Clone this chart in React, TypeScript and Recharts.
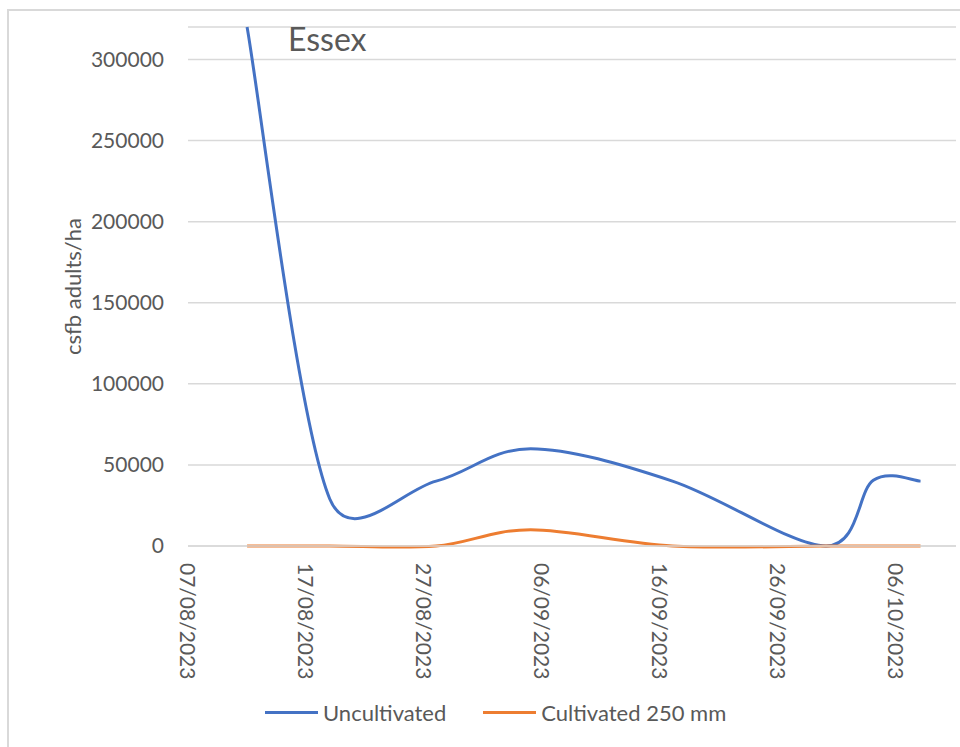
import React from 'react';
import { LineChart, Line, XAxis, YAxis, CartesianGrid, Legend, Label } from 'recharts';

// Sampling dates (dd/mm/yyyy) and trap counts converted to adults per hectare
const sampleDates = [
  '12/08/2023',
  '19/08/2023',
  '28/08/2023',
  '05/09/2023',
  '17/09/2023',
  '30/09/2023',
  '04/10/2023',
  '08/10/2023',
];
const uncultivated = [320000, 29000, 40000, 60000, 40000, 0, 40500, 40000];
const cultivated250 = [0, 0, 0, 10000, 0, 0, 0, 0];

const seriesNames = ['Uncultivated', 'Cultivated 250 mm'];
const seriesColors = ['#4472C4', '#ED7D31'];

const axisStart = '07/08/2023';
const axisEnd = '11/10/2023';
const dateTicks = [
  '07/08/2023',
  '17/08/2023',
  '27/08/2023',
  '06/09/2023',
  '16/09/2023',
  '26/09/2023',
  '06/10/2023',
];
const valueTicks = [0, 50000, 100000, 150000, 200000, 250000, 300000];
const valueMax = 320000;

const FONT = 'Lato, "Open Sans", sans-serif';
const TEXT = '#595959';
const GRID = '#d9d9d9';

const toDay = (s: string) => {
  const [d, m, y] = s.split('/').map(Number);
  return Date.UTC(y, m - 1, d) / 86400000;
};
const fromDay = (n: number) => {
  const dt = new Date(Math.round(n) * 86400000);
  const dd = String(dt.getUTCDate()).padStart(2, '0');
  const mm = String(dt.getUTCMonth() + 1).padStart(2, '0');
  return `${dd}/${mm}/${dt.getUTCFullYear()}`;
};

const rows = sampleDates.map((s, i) => ({
  day: toDay(s),
  uncultivated: uncultivated[i],
  cultivated: cultivated250[i],
}));

// Spreadsheet-style smoothed line: cubic Bezier segments whose control
// points follow the neighbouring points, shortened on short segments.
function smoothCurve(context: any) {
  let xs: number[] = [];
  let ys: number[] = [];
  let line = NaN;
  return {
    areaStart() {
      line = 0;
    },
    areaEnd() {
      line = NaN;
    },
    lineStart() {
      xs = [];
      ys = [];
    },
    point(x: number, y: number) {
      xs.push(+x);
      ys.push(+y);
    },
    lineEnd() {
      const n = xs.length;
      if (n > 0) {
        if (line) context.lineTo(xs[0], ys[0]);
        else context.moveTo(xs[0], ys[0]);
      }
      const dist = (a: number, b: number) => Math.hypot(xs[a] - xs[b], ys[a] - ys[b]);
      for (let i = 0; i < n - 1; i++) {
        const i0 = i > 0 ? i - 1 : i;
        const i1 = i;
        const i2 = i + 1;
        const i3 = i + 2 < n ? i + 2 : i + 1;
        const d02 = dist(i0, i2);
        const d12 = dist(i1, i2);
        const d13 = dist(i1, i3);
        let f1 = 1 / 6;
        let f2 = 1 / 6;
        if (d02 > 0 && d02 * f1 > d12 / 2) f1 = d12 / (2 * d02);
        if (d13 > 0 && d13 * f2 > d12 / 2) f2 = d12 / (2 * d13);
        const c1x = xs[i1] + f1 * (xs[i2] - xs[i0]);
        const c1y = ys[i1] + f1 * (ys[i2] - ys[i0]);
        const c2x = xs[i2] - f2 * (xs[i3] - xs[i1]);
        const c2y = ys[i2] - f2 * (ys[i3] - ys[i1]);
        context.bezierCurveTo(c1x, c1y, c2x, c2y, xs[i2], ys[i2]);
      }
      if (line || (line !== 0 && n === 1)) context.closePath();
      line = 1 - line;
    },
  };
}

const DateTick = (props: any) => {
  const { x, y, payload } = props;
  return (
    <text
      x={x}
      y={y}
      transform={`rotate(90, ${x}, ${y})`}
      textAnchor="start"
      dominantBaseline="central"
      fill={TEXT}
      fontSize={21}
      fontFamily={FONT}
    >
      {fromDay(payload.value)}
    </text>
  );
};

const LegendContent = (props: any) => {
  const items = [...(props.payload || [])].sort(
    (a: any, b: any) => seriesNames.indexOf(a.value) - seriesNames.indexOf(b.value),
  );
  return (
    <div style={{ display: 'flex', alignItems: 'center', fontFamily: FONT, fontSize: 22, color: TEXT }}>
      {items.map((it: any, i: number) => (
        <div key={i} style={{ display: 'flex', alignItems: 'center', marginRight: i === 0 ? 37 : 0 }}>
          <div style={{ width: 53, height: 3, background: it.color, marginRight: 5 }} />
          <span style={{ whiteSpace: 'nowrap' }}>{it.value}</span>
        </div>
      ))}
    </div>
  );
};

export default function App() {
  return (
    <div style={{ position: 'absolute', left: 0, top: 0, width: 960, height: 747, background: '#fff', overflow: 'hidden' }}>
      <div
        style={{
          position: 'absolute',
          left: 7,
          top: 9,
          width: 1000,
          height: 800,
          borderLeft: `2px solid ${GRID}`,
          borderTop: `2px solid ${GRID}`,
        }}
      />
      <LineChart
        width={960}
        height={747}
        data={rows}
        margin={{ top: 27, right: 4, left: 0, bottom: 0 }}
        style={{ position: 'absolute', left: 0, top: 0 }}
      >
        <CartesianGrid vertical={false} stroke={GRID} strokeWidth={1.5} />
        <XAxis
          dataKey="day"
          type="number"
          scale="linear"
          domain={[toDay(axisStart), toDay(axisEnd)]}
          ticks={dateTicks.map(toDay)}
          height={201}
          tickLine={false}
          tickMargin={11}
          axisLine={{ stroke: GRID, strokeWidth: 1.5 }}
          tick={<DateTick />}
          interval={0}
        />
        <YAxis
          type="number"
          domain={[0, valueMax]}
          ticks={valueTicks}
          width={188}
          tickLine={false}
          axisLine={false}
          tickSize={6}
          tickMargin={18}
          tick={{ fill: TEXT, fontSize: 21, fontFamily: FONT }}
          interval={0}
        >
          <Label
            content={(p: any) => {
              const vb = p.viewBox || { x: 0, y: 27, width: 188, height: 519 };
              const cx = vb.x + 72;
              const cy = vb.y + vb.height / 2;
              return (
                <text
                  x={cx}
                  y={cy}
                  transform={`rotate(-90, ${cx}, ${cy})`}
                  textAnchor="middle"
                  dominantBaseline="central"
                  fill={TEXT}
                  fontSize={22}
                  fontFamily={FONT}
                >
                  csfb adults/ha
                </text>
              );
            }}
          />
        </YAxis>
        <Legend
          layout="horizontal"
          verticalAlign="middle"
          align="center"
          content={<LegendContent />}
          wrapperStyle={{ top: 699, left: 265, width: 'auto' }}
        />
        <Line
          name={seriesNames[0]}
          dataKey="uncultivated"
          type={smoothCurve as any}
          stroke={seriesColors[0]}
          strokeWidth={3}
          dot={false}
          activeDot={false}
          isAnimationActive={false}
        />
        <Line
          name={seriesNames[1]}
          dataKey="cultivated"
          type={smoothCurve as any}
          stroke={seriesColors[1]}
          strokeWidth={3}
          dot={false}
          activeDot={false}
          isAnimationActive={false}
        />
      </LineChart>
      <div
        style={{
          position: 'absolute',
          left: 288,
          top: 19,
          fontFamily: FONT,
          fontSize: 32,
          color: TEXT,
          lineHeight: '40px',
        }}
      >
        Essex
      </div>
    </div>
  );
}
